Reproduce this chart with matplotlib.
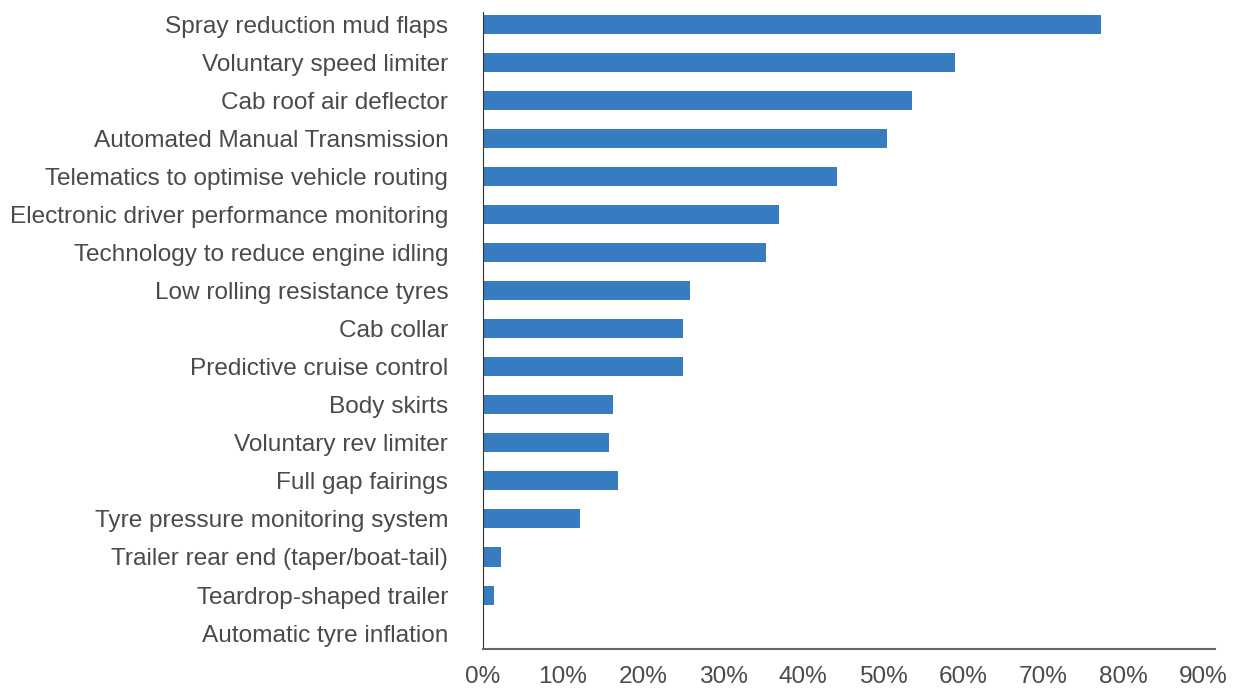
import matplotlib.pyplot as plt
from matplotlib.ticker import FuncFormatter

plt.rcParams['font.family'] = ['Liberation Sans', 'DejaVu Sans']

measures = [
    "Spray reduction mud flaps",
    "Voluntary speed limiter",
    "Cab roof air deflector",
    "Automated Manual Transmission",
    "Telematics to optimise vehicle routing",
    "Electronic driver performance monitoring",
    "Technology to reduce engine idling",
    "Low rolling resistance tyres",
    "Cab collar",
    "Predictive cruise control",
    "Body skirts",
    "Voluntary rev limiter",
    "Full gap fairings",
    "Tyre pressure monitoring system",
    "Trailer rear end (taper/boat-tail)",
    "Teardrop-shaped trailer",
    "Automatic tyre inflation",
]
shares = [77.3, 59.0, 53.6, 50.5, 44.3, 37.0, 35.4, 25.9, 25.0, 25.0,
          16.3, 15.8, 16.9, 12.1, 2.3, 1.4, 0.0]
xticks = [0, 10, 20, 30, 40, 50, 60, 70, 80, 90]

fig = plt.figure(figsize=(12.34, 6.89), dpi=100)
ax = fig.add_axes([0.3914, 0.058, 0.5932, 0.9246])

ax.barh(range(len(measures)), shares, height=0.5, color='#377bc0')

ax.set_yticks(range(len(measures)))
ax.set_yticklabels(measures)
ax.set_ylim(len(measures) - 1 + 0.42, -0.33)
ax.set_xlim(0, 91.5)
ax.set_xticks(xticks)
ax.xaxis.set_major_formatter(FuncFormatter(lambda v, p: f"{v:.0f}%"))

for s in ['top', 'right']:
    ax.spines[s].set_visible(False)
ax.spines['left'].set_color('#333333')
ax.spines['bottom'].set_color('#666666')
ax.spines['bottom'].set_linewidth(1.5)
ax.tick_params(length=0, labelsize=17.6, colors='#4a4a4a')
ax.tick_params(axis='x', pad=12.5)
ax.tick_params(axis='y', pad=25)

plt.savefig('out.png', dpi=100)
